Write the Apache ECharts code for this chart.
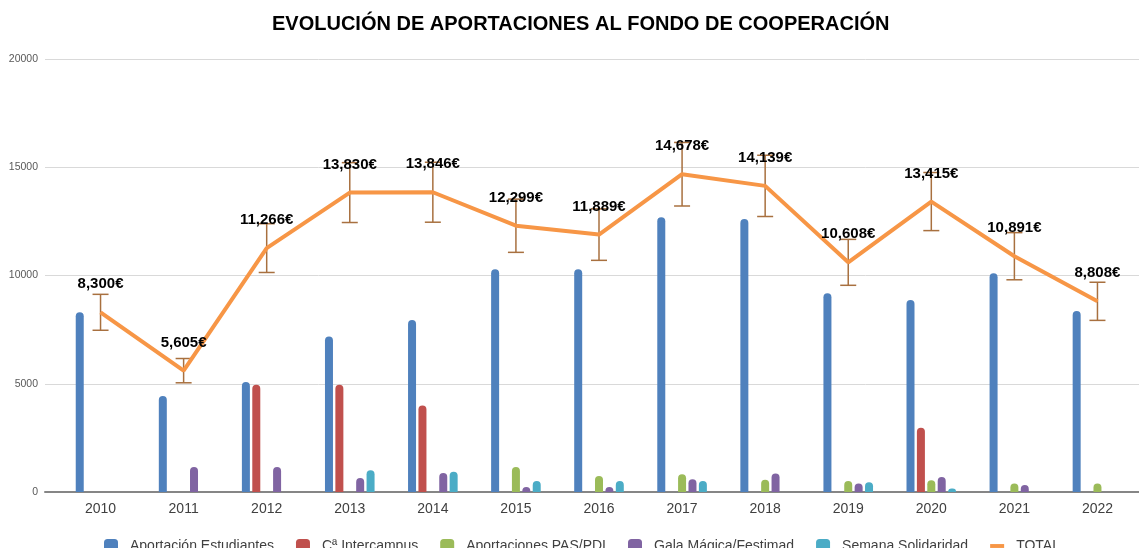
<!DOCTYPE html>
<html>
<head>
<meta charset="utf-8">
<script src="https://cdn.jsdelivr.net/npm/echarts@6/dist/echarts.min.js"></script>
<style>
  html, body { margin: 0; padding: 0; background: #fff; }
  #chart { width: 1139px; height: 548px; }
</style>
</head>
<body>
<div id="chart"></div>
<script>
// años
var years = ['2010', '2011', '2012', '2013', '2014', '2015', '2016', '2017', '2018', '2019', '2020', '2021', '2022'];
// aportaciones por origen
var estudiantes = [8300, 4430, 5080, 7180, 7950, 10290, 10290, 12690, 12610, 9180, 8870, 10100, 8360];
var intercampus = [null, null, 4950, 4950, 3990, null, null, null, null, null, 2970, null, null];
var pasPdi = [null, null, null, null, null, 1150, 740, 820, 570, 510, 540, 390, 390];
var gala = [null, 1150, 1150, 650, 880, 230, 230, 590, 860, 390, 690, 320, null];
var semana = [null, null, null, 1000, 930, 510, 510, 510, null, 450, 160, null, null];
var total = [8300, 5605, 11266, 13830, 13846, 12299, 11889, 14678, 14139, 10608, 13415, 10891, 8808];
// barras de error en porcentaje
var errorPct = 0.10;
var yTicks = [0, 5000, 10000, 15000, 20000];

var font = 'Liberation Sans, Arial, sans-serif';

function barSerie(name, data, color) {
  return {
    name: name,
    type: 'bar',
    xAxisIndex: 1,
    yAxisIndex: 1,
    data: data,
    barWidth: 8,
    barGap: '30%',
    itemStyle: { color: color, borderRadius: [4, 4, 0, 0] }
  };
}

var errData = total.map(function (v, i) {
  return [i, v * (1 - errorPct), v * (1 + errorPct)];
});

var option = {
  animation: false,
  backgroundColor: '#fff',
  title: {
    text: 'EVOLUCIÓN DE APORTACIONES AL FONDO DE COOPERACIÓN',
    left: 267,
    top: 9,
    textStyle: { fontFamily: font, fontSize: 20, fontWeight: 'bold', color: '#000' }
  },
  legend: {
    left: 99,
    top: 534,
    itemWidth: 14,
    itemHeight: 14,
    itemGap: 22,
    textStyle: { fontFamily: font, fontSize: 14, color: '#404040', padding: [0, 0, 0, 7] },
    data: [
      { name: 'Aportación Estudiantes', icon: 'roundRect' },
      { name: 'Cª Intercampus', icon: 'roundRect' },
      { name: 'Aportaciones PAS/PDI', icon: 'roundRect' },
      { name: 'Gala Mágica/Festimad', icon: 'roundRect' },
      { name: 'Semana Solidaridad', icon: 'roundRect' },
      { name: 'TOTAL', icon: 'path://M0,0 H18 V5 H0 Z' }
    ]
  },
  grid: [
    { left: 45, right: 0, top: 59, bottom: 56 },
    { left: 59, right: 0, top: 59, bottom: 56 }
  ],
  xAxis: [
    {
      gridIndex: 0, type: 'value', min: 0, max: 1,
      axisLine: { show: true, lineStyle: { color: '#868686', width: 2 } },
      axisTick: { show: false }, axisLabel: { show: false }, splitLine: { show: false }
    },
    {
      gridIndex: 1, type: 'category', data: years,
      axisLine: { show: false }, axisTick: { show: false },
      axisLabel: { margin: 10, fontFamily: font, fontSize: 14, color: '#404040' }
    }
  ],
  yAxis: [
    {
      gridIndex: 0, type: 'value', min: yTicks[0], max: yTicks[yTicks.length - 1], interval: 5000,
      axisLine: { show: false }, axisTick: { show: false },
      axisLabel: {
        margin: 7, fontFamily: font, fontSize: 10.5, color: '#595959',
        formatter: function (v) { return String(v); }
      },
      splitLine: { lineStyle: { color: '#D9D9D9', width: 1 } }
    },
    {
      gridIndex: 1, type: 'value', min: 0, max: 20000, show: false
    }
  ],
  series: [
    barSerie('Aportación Estudiantes', estudiantes, '#4F81BD'),
    barSerie('Cª Intercampus', intercampus, '#C0504D'),
    barSerie('Aportaciones PAS/PDI', pasPdi, '#9BBB59'),
    barSerie('Gala Mágica/Festimad', gala, '#8064A2'),
    barSerie('Semana Solidaridad', semana, '#4BACC6'),
    {
      name: 'TOTAL',
      type: 'line',
      xAxisIndex: 1,
      yAxisIndex: 1,
      data: total,
      symbol: 'circle',
      symbolSize: 1,
      showSymbol: true,
      lineStyle: { color: '#F79646', width: 4 },
      itemStyle: { color: '#F79646' },
      label: {
        show: true,
        position: 'top',
        distance: 20,
        fontFamily: font,
        fontSize: 15,
        fontWeight: 'bold',
        color: '#000',
        formatter: function (p) { return p.value.toLocaleString('en-US') + '€'; }
      },
      z: 3
    },
    {
      name: 'error',
      type: 'custom',
      xAxisIndex: 1,
      yAxisIndex: 1,
      data: errData,
      encode: { x: 0, y: [1, 2] },
      z: 2,
      renderItem: function (params, api) {
        var hi = api.coord([api.value(0), api.value(2)]);
        var lo = api.coord([api.value(0), api.value(1)]);
        var w = 8;
        var st = { stroke: '#A8703F', lineWidth: 1.5 };
        return {
          type: 'group',
          children: [
            { type: 'line', shape: { x1: hi[0], y1: hi[1], x2: lo[0], y2: lo[1] }, style: st },
            { type: 'line', shape: { x1: hi[0] - w, y1: hi[1], x2: hi[0] + w, y2: hi[1] }, style: st },
            { type: 'line', shape: { x1: lo[0] - w, y1: lo[1], x2: lo[0] + w, y2: lo[1] }, style: st }
          ]
        };
      }
    }
  ]
};

var myChart = echarts.init(document.getElementById('chart'));
myChart.setOption(option);
</script>
</body>
</html>
